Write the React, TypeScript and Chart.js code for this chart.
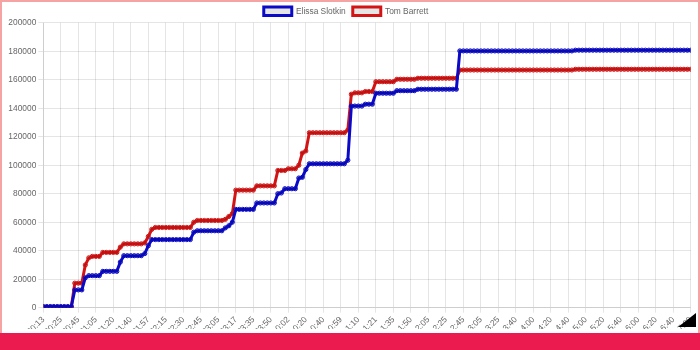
import React, { useEffect, useRef } from 'react';
import { Chart, registerables } from 'chart.js';

Chart.register(...registerables);

// Tick labels shown on the x axis (one every 5 data points)
const tickLabels: string[] = [
  '20:13', '20:25', '20:45', '21:05', '21:20', '21:40', '21:57', '22:15', '22:30', '22:45',
  '23:05', '23:17', '23:35', '23:50', '0:02', '0:20', '0:40', '0:59', '1:10', '1:21',
  '1:35', '1:50', '2:05', '2:25', '2:45', '3:05', '3:25', '3:40', '4:00', '4:20',
  '4:40', '5:00', '5:20', '5:40', '6:00', '6:20', '6:40', '7:00',
];

const seriesNames: string[] = ['Elissa Slotkin', 'Tom Barrett'];

// Elissa Slotkin cumulative votes, one value per update
const slotkin: number[] = [
  800, 800, 800, 800, 800, 800, 800, 800, 800, 12500,
  12500, 12500, 21000, 22500, 22500, 22500, 22500, 25500, 25500, 25500,
  25500, 25500, 32000, 36500, 36500, 36500, 36500, 36500, 36500, 38000,
  43500, 47800, 47800, 47800, 47800, 47800, 47800, 47800, 47800, 47800,
  47800, 47800, 47800, 53000, 54000, 54000, 54000, 54000, 54000, 54000,
  54000, 54000, 56000, 57500, 60000, 69000, 69000, 69000, 69000, 69000,
  69000, 73500, 73500, 73500, 73500, 73500, 73500, 80000, 80500, 83500,
  83500, 83500, 83500, 91000, 91500, 97000, 101000, 101000, 101000, 101000,
  101000, 101000, 101000, 101000, 101000, 101000, 101000, 103500, 141500, 141500,
  141500, 141500, 142800, 142800, 142800, 150500, 150500, 150500, 150500, 150500,
  150500, 152300, 152300, 152300, 152300, 152300, 152300, 153300, 153300, 153300,
  153300, 153300, 153300, 153300, 153300, 153300, 153300, 153300, 153300, 180200,
  180200, 180200, 180200, 180200, 180200, 180200, 180200, 180200, 180200, 180200,
  180200, 180200, 180200, 180200, 180200, 180200, 180200, 180200, 180200, 180200,
  180200, 180200, 180200, 180200, 180200, 180200, 180200, 180200, 180200, 180200,
  180200, 180200, 180700, 180700, 180700, 180700, 180700, 180700, 180700, 180700,
  180700, 180700, 180700, 180700, 180700, 180700, 180700, 180700, 180700, 180700,
  180700, 180700, 180700, 180700, 180700, 180700, 180700, 180700, 180700, 180700,
  180700, 180700, 180700, 180700, 180700, 180700,
];

// Tom Barrett cumulative votes, one value per update
const barrett: number[] = [
  500, 500, 500, 500, 500, 500, 500, 500, 500, 17200,
  17200, 17200, 30000, 35000, 36000, 36000, 36000, 38800, 38800, 38800,
  38800, 38800, 42500, 44800, 44800, 44800, 44800, 44800, 44800, 45500,
  50000, 55000, 56300, 56300, 56300, 56300, 56300, 56300, 56300, 56300,
  56300, 56300, 56300, 60000, 61200, 61200, 61200, 61200, 61200, 61200,
  61200, 61200, 62000, 64000, 66000, 82500, 82500, 82500, 82500, 82500,
  82500, 85500, 85500, 85500, 85500, 85500, 85500, 96300, 96300, 96300,
  97500, 97500, 97500, 100000, 108500, 110000, 122800, 122800, 122800, 122800,
  122800, 122800, 122800, 122800, 122800, 122800, 122800, 124700, 149800, 150800,
  150800, 150800, 151700, 151700, 151700, 158600, 158600, 158600, 158600, 158600,
  158600, 160300, 160300, 160300, 160300, 160300, 160300, 161000, 161000, 161000,
  161000, 161000, 161000, 161000, 161000, 161000, 161000, 161000, 161000, 166800,
  166800, 166800, 166800, 166800, 166800, 166800, 166800, 166800, 166800, 166800,
  166800, 166800, 166800, 166800, 166800, 166800, 166800, 166800, 166800, 166800,
  166800, 166800, 166800, 166800, 166800, 166800, 166800, 166800, 166800, 166800,
  166800, 166800, 167300, 167300, 167300, 167300, 167300, 167300, 167300, 167300,
  167300, 167300, 167300, 167300, 167300, 167300, 167300, 167300, 167300, 167300,
  167300, 167300, 167300, 167300, 167300, 167300, 167300, 167300, 167300, 167300,
  167300, 167300, 167300, 167300, 167300, 167300,
];

const yTicks = { min: 0, max: 200000, step: 20000 };
const FONT = { family: 'Arial, "Liberation Sans", sans-serif', size: 8.4 };

const CANVAS_H = 345;
const AXIS_BOTTOM = 307.7;
const AXIS_LEFT = 43.3;

export default function App() {
  const ref = useRef<HTMLCanvasElement | null>(null);

  useEffect(() => {
    if (!ref.current) return;
    const toPoints = (arr: number[]) => arr.map((y, i) => ({ x: i, y }));
    const lastIndex = slotkin.length - 1;
    const chart = new Chart(ref.current, {
      type: 'line',
      data: {
        datasets: [
          {
            label: seriesNames[0],
            data: toPoints(slotkin),
            borderColor: '#0a0ac8',
            backgroundColor: 'rgba(0,0,0,0.1)',
            borderWidth: 3,
            pointRadius: 2.1,
            pointBorderWidth: 1,
            tension: 0,
          },
          {
            label: seriesNames[1],
            data: toPoints(barrett),
            borderColor: '#d41414',
            backgroundColor: 'rgba(0,0,0,0.1)',
            borderWidth: 3,
            pointRadius: 2.1,
            pointBorderWidth: 1,
            tension: 0,
          },
        ],
      },
      options: {
        animation: false,
        responsive: false,
        devicePixelRatio: 1,
        layout: { padding: { left: 0, right: 8, top: 0, bottom: 0 } },
        plugins: {
          legend: {
            position: 'top',
            maxHeight: 22.7,
            labels: {
              boxWidth: 28,
              boxHeight: 8.4,
              padding: 7,
              color: '#666',
              font: FONT,
            },
          },
          tooltip: { enabled: false },
        },
        scales: {
          x: {
            type: 'linear',
            min: 0,
            max: lastIndex,
            grid: { color: 'rgba(0,0,0,0.1)', tickLength: 5 },
            ticks: {
              stepSize: 5,
              autoSkip: false,
              minRotation: 45,
              maxRotation: 45,
              padding: 2,
              color: '#666',
              font: FONT,
              callback: (v: any) => tickLabels[Math.round(Number(v) / 5)] ?? '',
            },
            afterFit: (scale: any) => {
              scale.height = CANVAS_H - AXIS_BOTTOM;
            },
          },
          y: {
            min: yTicks.min,
            max: yTicks.max,
            grid: { color: 'rgba(0,0,0,0.1)', tickLength: 5 },
            ticks: {
              stepSize: yTicks.step,
              padding: 2,
              color: '#666',
              font: FONT,
              callback: (v: any) => String(v),
            },
            afterFit: (scale: any) => {
              scale.width = AXIS_LEFT;
            },
          },
        },
      },
    } as any);
    return () => chart.destroy();
  }, []);

  return (
    <div style={{ position: 'fixed', left: 0, top: 0, width: 700, height: 350, background: '#fff', overflow: 'hidden' }}>
      <div style={{ position: 'absolute', left: 0, top: 0, width: 700, height: 329, overflow: 'hidden' }}>
        <canvas ref={ref} width={700} height={CANVAS_H} style={{ display: 'block', width: 700, height: CANVAS_H }} />
      </div>
      <div style={{ position: 'absolute', left: 0, top: 0, width: 700, height: 2, background: '#f6a3a3' }} />
      <div style={{ position: 'absolute', left: 0, top: 0, width: 2, height: 350, background: '#f6a3a3' }} />
      <div style={{ position: 'absolute', right: 0, top: 0, width: 2, height: 350, background: '#f6a3a3' }} />
      <div
        style={{
          position: 'absolute', left: 678, top: 313, width: 18, height: 14, background: '#000',
          clipPath: 'polygon(100% 0, 100% 100%, 0 100%)',
        }}
      />
      <div style={{ position: 'absolute', left: 0, top: 333, width: 700, height: 17, background: '#eb1b4f' }} />
    </div>
  );
}
